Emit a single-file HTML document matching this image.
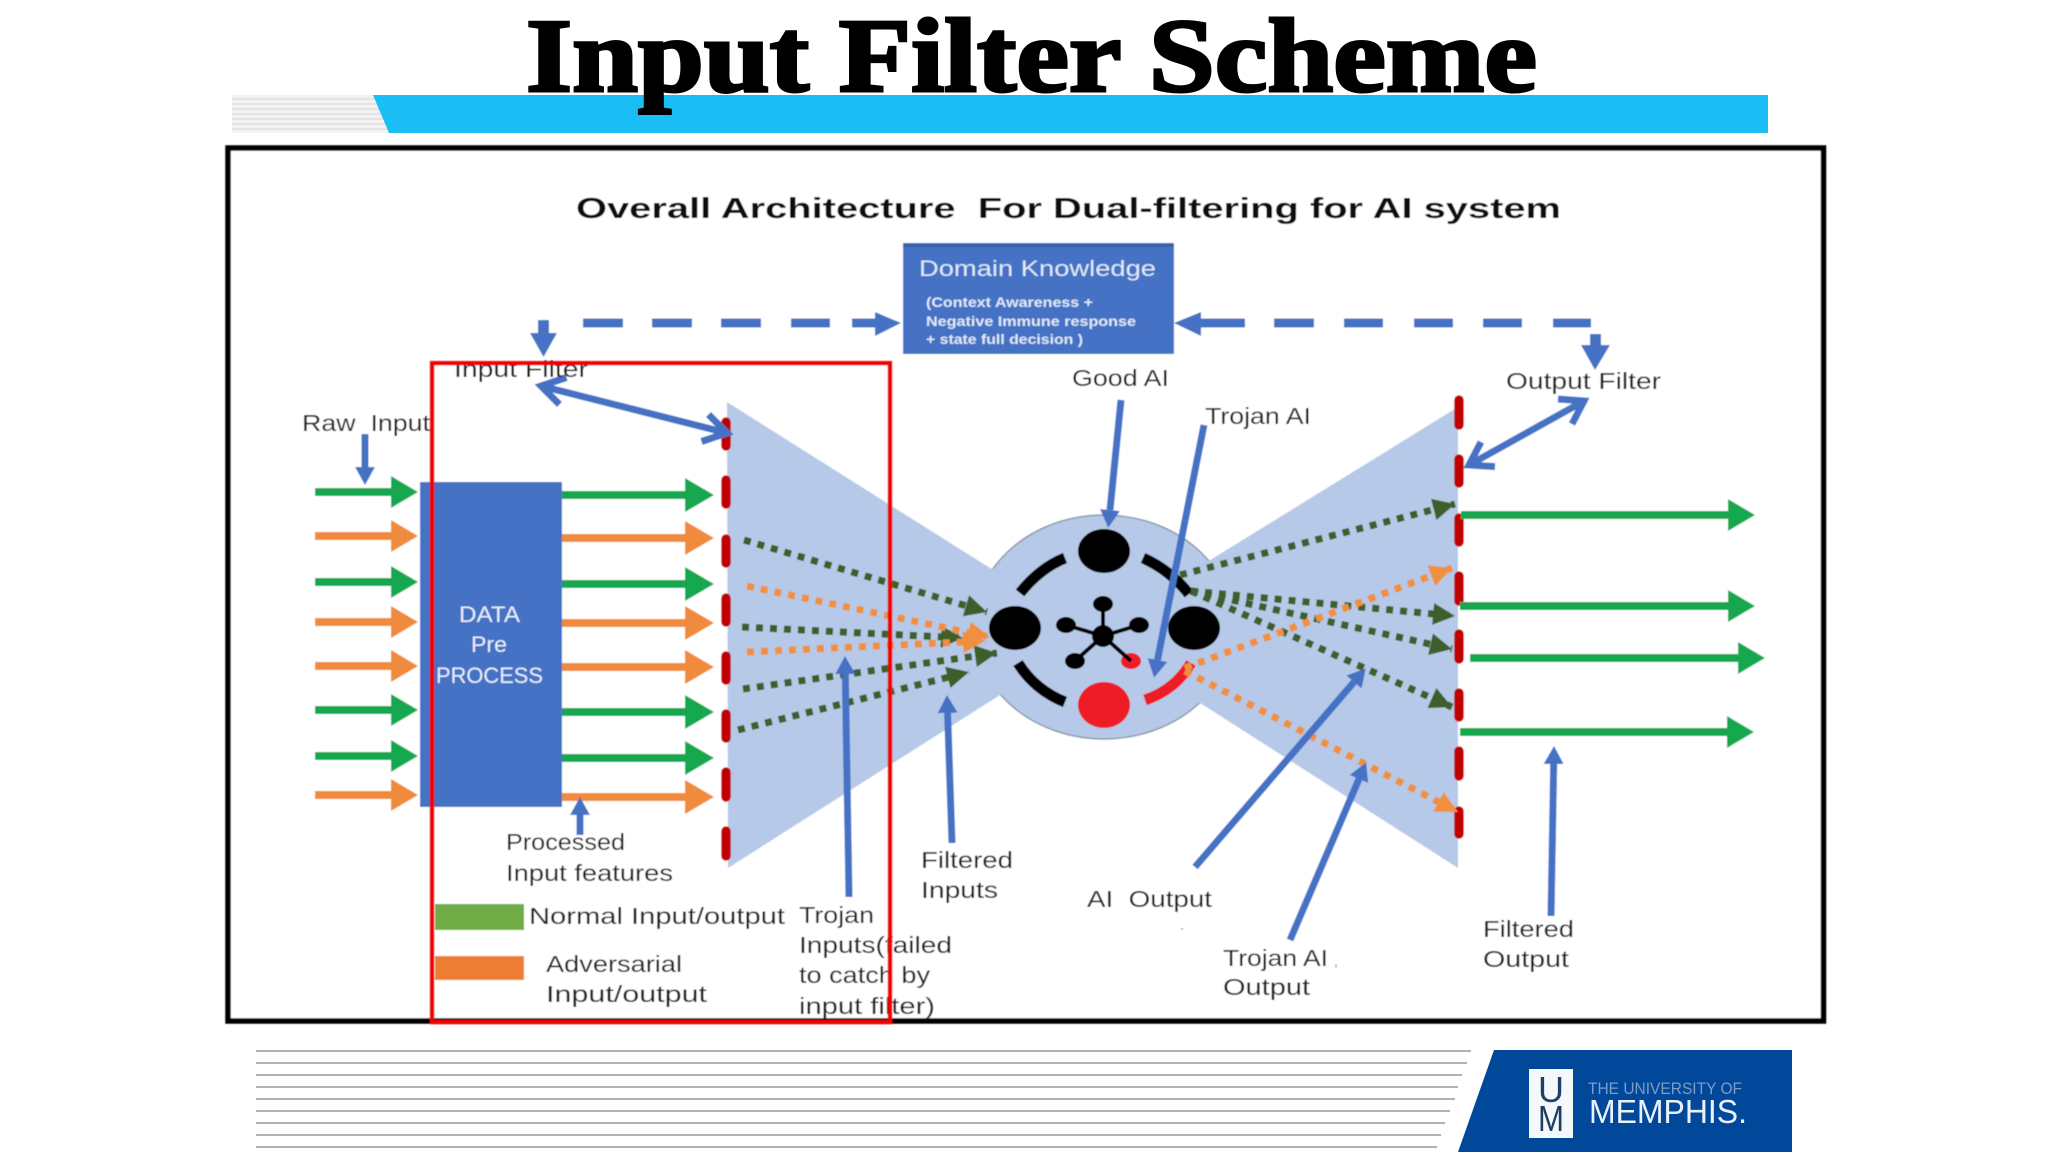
<!DOCTYPE html>
<html lang="en">
<head>
<meta charset="utf-8">
<title>Input Filter Scheme</title>
<style>
html,body{margin:0;padding:0;background:#fff;width:2048px;height:1152px;overflow:hidden}
svg{display:block}
text{font-family:"Liberation Sans",sans-serif;white-space:pre}
.l{font-size:23px;fill:#1a1a1a}
</style>
</head>
<body>
<svg xmlns="http://www.w3.org/2000/svg" width="2048" height="1152" viewBox="0 0 2048 1152">
<defs>
<filter id="b" x="-2%" y="-2%" width="104%" height="104%"><feGaussianBlur stdDeviation="0.6"/></filter>
<pattern id="gs" width="10" height="5" patternUnits="userSpaceOnUse"><rect width="10" height="5" fill="#f2f2f2"/><rect y="3" width="10" height="2" fill="#e4e4e4"/></pattern>
<marker id="hb" markerUnits="userSpaceOnUse" markerWidth="20" markerHeight="24" refX="0" refY="11" orient="auto"><path d="M0 1L18 11L0 21Z" fill="#4472c4"/></marker>
<marker id="hg" markerUnits="userSpaceOnUse" markerWidth="26" markerHeight="26" refX="22" refY="12" orient="auto"><path d="M0 1L22 12L0 23Z" fill="#3d5f2a"/></marker>
<marker id="ho" markerUnits="userSpaceOnUse" markerWidth="26" markerHeight="26" refX="22" refY="12" orient="auto"><path d="M0 1L22 12L0 23Z" fill="#f08f3f"/></marker>
</defs>

<!-- header -->
<rect x="232" y="95" width="160" height="38" fill="url(#gs)"/>
<path d="M373 95H1768V133H389Z" fill="#1abef4"/>
<text x="526" y="91" font-size="105" font-weight="700" textLength="1011" lengthAdjust="spacingAndGlyphs" stroke="#000" stroke-width="3" style="font-family:'Liberation Serif',serif">Input Filter Scheme</text>

<!-- footer -->
<g stroke="#b2b2b2" stroke-width="2">
<path d="M256 1051H1471M256 1063H1467M256 1075H1462M256 1087H1458M256 1099H1455M256 1111H1450M256 1123H1445M256 1135H1441M256 1147H1437"/>
</g>
<path d="M1494 1050H1792V1152H1458Z" fill="#02489a"/>
<rect x="1529" y="1069" width="44" height="69" fill="#f4f8fb"/>
<text x="1551" y="1102" text-anchor="middle" font-size="36" fill="#1f3e66" textLength="26" lengthAdjust="spacingAndGlyphs">U</text>
<text x="1551" y="1131" text-anchor="middle" font-size="36" fill="#1f3e66" textLength="26" lengthAdjust="spacingAndGlyphs">M</text>
<text x="1588" y="1094" font-size="16.500" fill="#7c9dcb" textLength="154" lengthAdjust="spacingAndGlyphs">THE UNIVERSITY OF</text>
<text x="1589" y="1123" font-size="33" fill="#eaf3fb" textLength="158" lengthAdjust="spacingAndGlyphs">MEMPHIS.</text>

<g filter="url(#b)">
<!-- frame -->
<rect x="228" y="148" width="1595.500" height="873" fill="#fff" stroke="#000" stroke-width="5.500"/>

<text x="576" y="218" font-size="29" font-weight="700" fill="#111" textLength="985" lengthAdjust="spacingAndGlyphs">Overall Architecture  For Dual-filtering for AI system</text>

<!-- Domain knowledge -->
<rect x="903" y="243" width="271" height="111" fill="#4472c4"/>
<rect x="903" y="243" width="271" height="4" fill="#3a62ab"/>
<text x="919" y="276" font-size="22" fill="#dfe8f7" textLength="237" lengthAdjust="spacingAndGlyphs">Domain Knowledge</text>
<g font-size="13.500" font-weight="700" fill="#dfe8f7">
<text x="926" y="307" textLength="167" lengthAdjust="spacingAndGlyphs">(Context Awareness +</text>
<text x="926" y="326" textLength="210" lengthAdjust="spacingAndGlyphs">Negative Immune response</text>
<text x="926" y="344" textLength="157" lengthAdjust="spacingAndGlyphs">+ state full decision )</text>
</g>

<!-- dashed connectors -->
<g fill="#4472c4">
<path d="M538 320H549V333H557L543.500 357L530 333H538Z"/>
<path d="M583 318.500h40v9h-40zM652 318.500h40v9h-40zM721 318.500h40v9h-40zM791 318.500h39v9h-39zM852 318.500h23V312L901 323L875 336v-8.500h-23z"/>
<path d="M1174 323L1201 312V318.500H1245v9H1201V336Z"/>
<path d="M1274 318.500h40v9h-40zM1344 318.500h39v9h-39zM1414 318.500h39v9h-39zM1483 318.500h39v9h-39zM1553 318.500h38v9h-38z"/>
<path d="M1590 334H1601V345H1610L1595 370L1581 345H1590Z"/>
</g>

<!-- core + funnels -->
<ellipse cx="1104" cy="627" rx="130" ry="112" fill="#b6c9e8" stroke="#8d99ac" stroke-width="1.500"/>
<path d="M727 402L990 568L1004 572L1004 692L997 697L728 868Z" fill="#b6c9e8"/>
<path d="M1207 562L1458 407V868L1200 703L1190 695L1190 572Z" fill="#b6c9e8"/>

<!-- red filter dashes -->
<g stroke="#c00000" stroke-width="9.500" stroke-linecap="round">
<path d="M726 422V446M726 480V504M726 539V563M726 598V622M726 656V680M726 714V738M726 772V797M726 831V856"/>
<path d="M1459 400V425M1459 459V483M1459 518V542M1459 576V601M1459 634V659M1459 693V717M1459 751V776M1459 811V834"/>
</g>

<!-- AI node -->
<g fill="#000">
<ellipse cx="1104" cy="551" rx="26" ry="22"/>
<ellipse cx="1015" cy="628" rx="26" ry="22"/>
<ellipse cx="1194" cy="628" rx="26" ry="22"/>
<ellipse cx="1103" cy="636" rx="11" ry="11"/>
<ellipse cx="1103" cy="604" rx="10" ry="8"/>
<ellipse cx="1066" cy="625" rx="10" ry="8"/>
<ellipse cx="1139" cy="625" rx="10" ry="8"/>
<ellipse cx="1075" cy="661" rx="10" ry="8"/>
</g>
<ellipse cx="1104" cy="705" rx="26" ry="23" fill="#ee1c25"/>
<ellipse cx="1131" cy="661" rx="10" ry="8" fill="#ee1c25"/>
<g fill="none" stroke="#000" stroke-width="4">
<path d="M1103 636V604M1103 636L1066 625M1103 636L1139 625M1103 636L1075 661M1103 636L1131 661"/>
</g>
<g fill="none" stroke="#000" stroke-width="11">
<path d="M1065 558Q1040 568 1020 593"/>
<path d="M1143 558Q1170 570 1189 594"/>
<path d="M1018 663Q1035 690 1065 702"/>
</g>
<path d="M1145 700Q1175 690 1191 663" fill="none" stroke="#ee1c25" stroke-width="11"/>

<!-- dotted flows -->
<g fill="none" stroke-width="7" stroke-dasharray="7 7">
<g stroke="#3d5f2a">
<line x1="744" y1="540" x2="987" y2="612" marker-end="url(#hg)"/>
<line x1="742" y1="627" x2="963" y2="638" marker-end="url(#hg)"/>
<line x1="743" y1="689" x2="997" y2="653" marker-end="url(#hg)"/>
<line x1="738" y1="730" x2="969" y2="672" marker-end="url(#hg)"/>
<line x1="1180" y1="575" x2="1455" y2="504" marker-end="url(#hg)"/>
<line x1="1191" y1="591" x2="1455" y2="616" marker-end="url(#hg)"/>
<line x1="1191" y1="591" x2="1452" y2="649" marker-end="url(#hg)"/>
<line x1="1191" y1="591" x2="1452" y2="707" marker-end="url(#hg)"/>
</g>
<g stroke="#f08f3f">
<line x1="747" y1="586" x2="990" y2="637" marker-end="url(#ho)"/>
<line x1="747" y1="652" x2="985" y2="641" marker-end="url(#ho)"/>
<line x1="1185" y1="668" x2="1452" y2="568" marker-end="url(#ho)"/>
<line x1="1185" y1="671" x2="1458" y2="812" marker-end="url(#ho)"/>
</g>
</g>

<!-- input arrows left of box -->
<g fill="#12a84f">
<path d="M315 488h76v-12l27 16l-27 16v-12h-76z"/>
<path d="M315 578h76v-12l27 16l-27 16v-12h-76z"/>
<path d="M315 706h76v-12l27 16l-27 16v-12h-76z"/>
<path d="M315 752h76v-12l27 16l-27 16v-12h-76z"/>
</g>
<g fill="#f08a3c">
<path d="M315 532h76v-12l27 16l-27 16v-12h-76z"/>
<path d="M315 618h76v-12l27 16l-27 16v-12h-76z"/>
<path d="M315 662h76v-12l27 16l-27 16v-12h-76z"/>
<path d="M315 791h76v-12l27 16l-27 16v-12h-76z"/>
</g>

<!-- data box -->
<rect x="420" y="482" width="142" height="325" fill="#4472c4"/>
<g font-size="22" fill="#e8eefa">
<text x="459" y="622" textLength="61" lengthAdjust="spacingAndGlyphs">DATA</text>
<text x="471" y="652" textLength="36" lengthAdjust="spacingAndGlyphs">Pre</text>
<text x="436" y="683" textLength="107" lengthAdjust="spacingAndGlyphs">PROCESS</text>
</g>

<!-- arrows right of box -->
<g fill="#12a84f">
<path d="M562 491h123v-13l29 17l-29 17v-13h-123z"/>
<path d="M562 580h123v-13l29 17l-29 17v-13h-123z"/>
<path d="M562 708h123v-13l29 17l-29 17v-13h-123z"/>
<path d="M562 754h123v-13l29 17l-29 17v-13h-123z"/>
</g>
<g fill="#f08a3c">
<path d="M562 534h123v-13l29 17l-29 17v-13h-123z"/>
<path d="M562 619h123v-13l29 17l-29 17v-13h-123z"/>
<path d="M562 663h123v-13l29 17l-29 17v-13h-123z"/>
<path d="M562 793h123v-13l29 17l-29 17v-13h-123z"/>
</g>

<!-- output arrows -->
<g fill="#12a84f">
<path d="M1461 511h267v-12l27 16l-27 16v-12h-267z"/>
<path d="M1460 602h268v-12l27 16l-27 16v-12h-268z"/>
<path d="M1470 654h268v-12l27 16l-27 16v-12h-268z"/>
<path d="M1460 728h267v-12l27 16l-27 16v-12h-267z"/>
</g>

<!-- blue pointers -->
<g fill="none" stroke="#4472c4" stroke-width="7">
<line x1="1121" y1="400" x2="1110" y2="510" marker-end="url(#hb)"/>
<line x1="1204" y1="425" x2="1157.500" y2="660" marker-end="url(#hb)"/>
<line x1="849" y1="897" x2="845.300" y2="674" marker-end="url(#hb)"/>
<line x1="952" y1="843" x2="947.600" y2="713" marker-end="url(#hb)"/>
<line x1="1195" y1="867" x2="1354" y2="682" marker-end="url(#hb)"/>
<line x1="1290" y1="940" x2="1359" y2="779" marker-end="url(#hb)"/>
<line x1="1551" y1="916" x2="1553.700" y2="764" marker-end="url(#hb)"/>
<line x1="365" y1="434" x2="365" y2="467" marker-end="url(#hb)"/>
<line x1="580" y1="835" x2="580" y2="815" marker-end="url(#hb)"/>
<!-- double-headed -->
<path d="M541 386L727 433M559.500 404.500L541 386L566.500 377.500M701.500 441.500L727 433L708.500 414.500"/>
<path d="M1584 401L1469 465M1572 424L1584 401L1558 399M1495 466.600L1469 465L1481 442"/>
</g>

<!-- labels -->
<text class="l" x="454" y="377" textLength="134" lengthAdjust="spacingAndGlyphs">Input Filter</text>
<text class="l" x="302" y="431" textLength="128" lengthAdjust="spacingAndGlyphs">Raw  Input</text>
<text class="l" x="1072" y="386" textLength="97" lengthAdjust="spacingAndGlyphs">Good AI</text>
<text class="l" x="1205" y="424" textLength="106" lengthAdjust="spacingAndGlyphs">Trojan AI</text>
<text class="l" x="1506" y="389" textLength="155" lengthAdjust="spacingAndGlyphs">Output Filter</text>
<text class="l" x="506" y="850" textLength="119" lengthAdjust="spacingAndGlyphs">Processed</text>
<text class="l" x="506" y="881" textLength="167" lengthAdjust="spacingAndGlyphs">Input features</text>
<rect x="435" y="904" width="89" height="26" fill="#70ad47"/>
<rect x="435" y="956" width="89" height="24" fill="#ed7d31"/>
<text class="l" x="529" y="924" textLength="256" lengthAdjust="spacingAndGlyphs">Normal Input/output</text>
<text class="l" x="546" y="972" textLength="136" lengthAdjust="spacingAndGlyphs">Adversarial</text>
<text class="l" x="546" y="1002" textLength="161" lengthAdjust="spacingAndGlyphs">Input/output</text>
<text class="l" x="799" y="923" textLength="75" lengthAdjust="spacingAndGlyphs">Trojan</text>
<text class="l" x="799" y="953" textLength="153" lengthAdjust="spacingAndGlyphs">Inputs(failed</text>
<text class="l" x="799" y="983" textLength="131" lengthAdjust="spacingAndGlyphs">to catch by</text>
<text class="l" x="799" y="1014" textLength="136" lengthAdjust="spacingAndGlyphs">input filter)</text>
<text class="l" x="921" y="868" textLength="92" lengthAdjust="spacingAndGlyphs">Filtered</text>
<text class="l" x="921" y="898" textLength="77" lengthAdjust="spacingAndGlyphs">Inputs</text>
<text class="l" x="1087" y="907" textLength="125" lengthAdjust="spacingAndGlyphs">AI  Output</text>
<circle cx="1182" cy="929" r="1" fill="#999"/>
<text class="l" x="1223" y="966" textLength="105" lengthAdjust="spacingAndGlyphs">Trojan AI</text>
<text x="1334" y="966" font-size="14" fill="#888">,</text>
<text class="l" x="1223" y="995" textLength="87" lengthAdjust="spacingAndGlyphs">Output</text>
<text class="l" x="1483" y="937" textLength="91" lengthAdjust="spacingAndGlyphs">Filtered</text>
<text class="l" x="1483" y="967" textLength="86" lengthAdjust="spacingAndGlyphs">Output</text>

<!-- red highlight -->
<rect x="432" y="363" width="458" height="659" fill="none" stroke="#f00000" stroke-width="4.500"/>
</g>
</svg>
</body>
</html>
